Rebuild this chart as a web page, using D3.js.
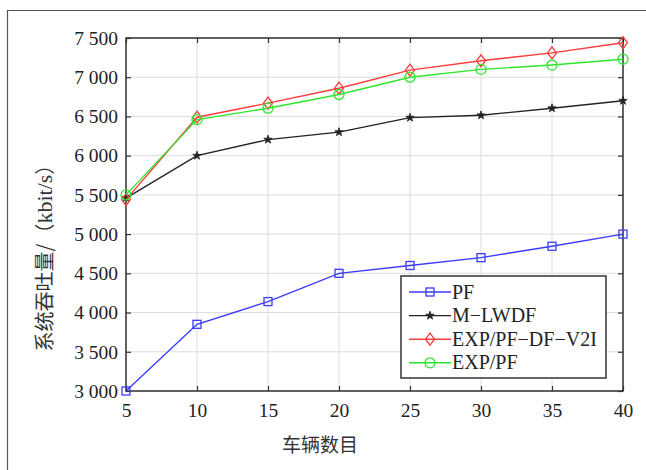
<!DOCTYPE html>
<html><head><meta charset="utf-8">
<script src="https://cdn.jsdelivr.net/npm/d3@7"></script>
<style>html,body{margin:0;padding:0;background:#fff;}svg{display:block;}</style>
</head><body>
<svg id="chart" width="646" height="470"></svg>
<script>
const vehicles = [5, 10, 15, 20, 25, 30, 35, 40];
const pf = [3000, 3850, 4140, 4500, 4600, 4700, 4845, 5000];
const mlwdf = [5460, 6000, 6205, 6300, 6485, 6515, 6605, 6700];
const expPfDfV2I = [5440, 6490, 6670, 6860, 7090, 7210, 7310, 7440];
const expPf = [5500, 6460, 6605, 6780, 7000, 7100, 7155, 7230];
const seriesNames = ["PF", "M\u2212LWDF", "EXP/PF\u2212DF\u2212V2I", "EXP/PF"];
const xTicks = [5, 10, 15, 20, 25, 30, 35, 40];
const yTicks = [3000, 3500, 4000, 4500, 5000, 5500, 6000, 6500, 7000, 7500];
const xLabel = "车辆数目";
const yLabelCjk = "系统吞吐量";
const yLabelOpen = "/（";
const yLabelUnit = "kbit/s";
const yLabelClose = "）";

const series = [
  {name: seriesNames[0], values: pf, color: "#3b3bff", marker: "square"},
  {name: seriesNames[1], values: mlwdf, color: "#222222", marker: "star"},
  {name: seriesNames[2], values: expPfDfV2I, color: "#ff3b3b", marker: "diamond"},
  {name: seriesNames[3], values: expPf, color: "#2ee62e", marker: "circle"}
];

const svg = d3.select("#chart");
const L = 126, R = 623, T = 38, B = 391;
const x = d3.scaleLinear().domain([5, 40]).range([L, R]);
const y = d3.scaleLinear().domain([3000, 7500]).range([B, T]);
const serif = "'Liberation Serif','Times New Roman',serif";
const cjk = "'Noto Sans CJK SC','Noto Sans',sans-serif";

// outer frame
svg.append("path").attr("d", "M7.5,470 L7.5,10.5 L646,10.5")
  .attr("fill", "none").attr("stroke", "#555").attr("stroke-width", 1.2);

// grid
const g = svg.append("g");
g.selectAll(".gx").data(xTicks).join("line")
  .attr("x1", d => x(d)).attr("x2", d => x(d)).attr("y1", T).attr("y2", B)
  .attr("stroke", "#dcdcdc").attr("stroke-width", 1);
g.selectAll(".gy").data(yTicks).join("line")
  .attr("y1", d => y(d)).attr("y2", d => y(d)).attr("x1", L).attr("x2", R)
  .attr("stroke", "#dcdcdc").attr("stroke-width", 1);

// axes
const axB = svg.append("g").attr("transform", `translate(0,${B})`)
  .call(d3.axisBottom(x).tickValues(xTicks).tickSize(-5).tickPadding(12).tickFormat(d => d));
const axL = svg.append("g").attr("transform", `translate(${L},0)`)
  .call(d3.axisLeft(y).tickValues(yTicks).tickSize(-5).tickPadding(8)
    .tickFormat(d => d3.format(",")(d).replace(",", " ")));
const axT = svg.append("g").attr("transform", `translate(0,${T})`)
  .call(d3.axisTop(x).tickValues(xTicks).tickSize(-5).tickFormat(""));
const axR = svg.append("g").attr("transform", `translate(${R},0)`)
  .call(d3.axisRight(y).tickValues(yTicks).tickSize(-5).tickFormat(""));
[axB, axL, axT, axR].forEach(a => {
  a.select(".domain").remove();
  a.selectAll(".tick line").attr("stroke", "#333").attr("stroke-width", 1.2);
  a.selectAll("text").attr("font-family", serif).attr("font-size", 19.5).attr("fill", "#222");
});
svg.append("rect").attr("x", L).attr("y", T).attr("width", R - L).attr("height", B - T)
  .attr("fill", "none").attr("stroke", "#333").attr("stroke-width", 1.5);

// markers
function drawMarker(sel, type, color, cx, cy) {
  if (type === "square") {
    sel.append("rect").attr("x", cx - 4).attr("y", cy - 4).attr("width", 8).attr("height", 8)
      .attr("fill", "none").attr("stroke", color).attr("stroke-width", 1.3);
  } else if (type === "circle") {
    sel.append("circle").attr("cx", cx).attr("cy", cy).attr("r", 5)
      .attr("fill", "none").attr("stroke", color).attr("stroke-width", 1.3);
  } else if (type === "diamond") {
    sel.append("path").attr("d", `M${cx},${cy - 6}L${cx + 4.5},${cy}L${cx},${cy + 6}L${cx - 4.5},${cy}Z`)
      .attr("fill", "none").attr("stroke", color).attr("stroke-width", 1.3);
  } else if (type === "star") {
    sel.append("path").attr("d", d3.symbol(d3.symbolStar, 22)()).attr("transform", `translate(${cx},${cy})`)
      .attr("fill", color).attr("stroke", color).attr("stroke-width", 0.8);
  }
}

const line = d3.line().x((d, i) => x(vehicles[i])).y(d => y(d));
series.forEach(s => {
  const sg = svg.append("g");
  sg.append("path").datum(s.values).attr("d", line)
    .attr("fill", "none").attr("stroke", s.color).attr("stroke-width", 1.4);
  s.values.forEach((v, i) => drawMarker(sg, s.marker, s.color, x(vehicles[i]), y(v)));
});

// legend
const lg = svg.append("g");
lg.append("rect").attr("x", 401).attr("y", 276).attr("width", 205).attr("height", 102)
  .attr("fill", "#fff").attr("stroke", "#333").attr("stroke-width", 1.5);
series.forEach((s, i) => {
  const cy = 292 + i * 23.6;
  lg.append("line").attr("x1", 409).attr("x2", 451).attr("y1", cy).attr("y2", cy)
    .attr("stroke", s.color).attr("stroke-width", 1.4);
  drawMarker(lg, s.marker, s.color, 430, cy);
  lg.append("text").attr("x", 452).attr("y", cy + 6.5).text(s.name)
    .attr("font-family", serif).attr("font-size", 20).attr("fill", "#222");
});

// axis labels
svg.append("text").attr("x", 320).attr("y", 452).attr("text-anchor", "middle")
  .attr("font-family", cjk).attr("font-size", 19).attr("fill", "#333").text(xLabel);
const yl = svg.append("text").attr("transform", "translate(52,253) rotate(-90)").attr("text-anchor", "middle")
  .attr("font-size", 20).attr("fill", "#333");
yl.append("tspan").attr("font-family", cjk).text(yLabelCjk);
yl.append("tspan").attr("font-family", cjk).text(yLabelOpen);
yl.append("tspan").attr("font-family", serif).attr("font-size", 22).text(yLabelUnit);
yl.append("tspan").attr("font-family", cjk).text(yLabelClose);
</script>
</body></html>
